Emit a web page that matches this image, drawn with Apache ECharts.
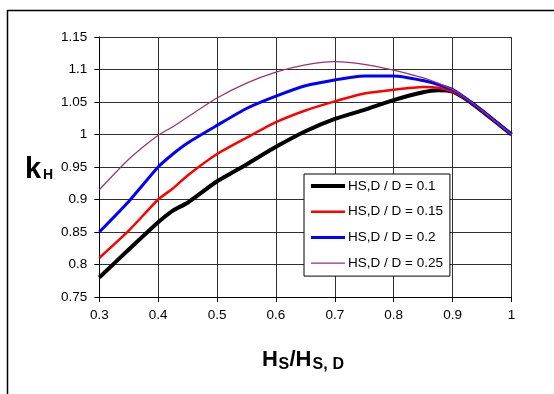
<!DOCTYPE html>
<html>
<head>
<meta charset="utf-8">
<script src="https://cdn.jsdelivr.net/npm/echarts@6/dist/echarts.min.js"></script>
<style>
  html, body { margin: 0; padding: 0; background: #fff; }
  #chart { width: 554px; height: 394px; }
</style>
</head>
<body>
<div id="chart"></div>
<script>
// Relative height H_S/H_S,D
const xs = [0.3, 0.35, 0.4, 0.425, 0.45, 0.5, 0.55, 0.6, 0.65, 0.7, 0.75, 0.8, 0.85, 0.875, 0.9, 0.925, 0.95, 1.0];

// k_H for each H_S,D / D ratio
const kH_010 = [0.780, 0.823, 0.865, 0.883, 0.895, 0.928, 0.954, 0.981, 1.005, 1.024, 1.038, 1.053, 1.065, 1.068, 1.066, 1.053, 1.036, 1.000];
const kH_015 = [0.810, 0.852, 0.900, 0.917, 0.937, 0.970, 0.995, 1.019, 1.037, 1.051, 1.063, 1.069, 1.073, 1.072, 1.066, 1.053, 1.036, 1.000];
const kH_020 = [0.850, 0.897, 0.950, 0.970, 0.987, 1.014, 1.040, 1.059, 1.075, 1.084, 1.090, 1.090, 1.083, 1.077, 1.069, 1.054, 1.037, 1.000];
const kH_025 = [0.915, 0.962, 0.999, 1.012, 1.027, 1.056, 1.079, 1.096, 1.107, 1.112, 1.108, 1.099, 1.087, 1.079, 1.069, 1.054, 1.037, 1.000];

const seriesNames = ['HS,D / D = 0.1', 'HS,D / D = 0.15', 'HS,D / D = 0.2', 'HS,D / D = 0.25'];
const seriesValues = [kH_010, kH_015, kH_020, kH_025];
const seriesColors = ['#000000', '#ff0000', '#0000ff', '#993366'];
const seriesWidths = [4, 2.5, 3, 1.2];

const FONT = "'Liberation Sans', Arial, sans-serif";

const chart = echarts.init(document.getElementById('chart'), null, { renderer: 'canvas' });

const fmt = v => String(+v.toFixed(2));

const option = {
  backgroundColor: '#ffffff',
  animation: false,
  textStyle: { fontFamily: FONT },
  grid: { left: 99.3, right: 42.5, top: 37, bottom: 97, containLabel: false },
  xAxis: {
    type: 'value',
    min: 0.3, max: 1, interval: 0.1,
    axisLine: { show: true, lineStyle: { color: '#000', width: 1 } },
    axisTick: { show: true, length: 5, lineStyle: { color: '#000' } },
    axisLabel: { formatter: fmt, color: '#000', fontSize: 13.5, fontFamily: FONT, margin: 11 },
    splitLine: { show: true, lineStyle: { color: '#303030', width: 1 } }
  },
  yAxis: {
    type: 'value',
    min: 0.75, max: 1.15, interval: 0.05,
    axisLine: { show: true, lineStyle: { color: '#000', width: 1 } },
    axisTick: { show: true, length: 5, lineStyle: { color: '#000' } },
    axisLabel: { formatter: fmt, color: '#000', fontSize: 13.5, fontFamily: FONT, margin: 12 },
    splitLine: { show: true, lineStyle: { color: '#303030', width: 1 } }
  },
  legend: {
    orient: 'vertical',
    left: 304, top: 174,
    padding: [5, 7, 6, 5],
    itemWidth: 34, itemHeight: 14, itemGap: 11.7,
    backgroundColor: '#fff',
    borderColor: '#000', borderWidth: 1,
    itemStyle: { opacity: 0, borderWidth: 0 },
    textStyle: { fontSize: 13.5, fontFamily: FONT, color: '#000', padding: [0, 0, 0, -2] },
    data: seriesNames.map((name, i) => ({
      name,
      lineStyle: { width: seriesWidths[i], color: seriesColors[i] }
    }))
  },
  series: seriesNames.map((name, i) => ({
    name,
    type: 'line',
    data: xs.map((x, j) => [x, seriesValues[i][j]]),
    symbol: 'none',
    showSymbol: false,
    smooth: 0.2,
    color: seriesColors[i],
    lineStyle: { color: seriesColors[i], width: seriesWidths[i] },
    z: 2 + i
  })),
  graphic: [
    // outer chart frame
    { type: 'rect', shape: { x: 7.5, y: 10.5, width: 600, height: 600 },
      style: { fill: 'none', stroke: '#000', lineWidth: 1.5 }, silent: true, z: 100 },
    // y-axis title k_H
    { type: 'text', left: 25, top: 155, style: { text: 'k', font: "bold 29px " + FONT, fill: '#000' } },
    { type: 'text', left: 43, top: 168, style: { text: 'H', font: "bold 14px " + FONT, fill: '#000' } },
    // x-axis title H_S / H_S,D
    { type: 'text', left: 262, top: 348.5, style: { text: 'H', font: "bold 22px " + FONT, fill: '#000' } },
    { type: 'text', left: 278.5, top: 356.5, style: { text: 'S', font: "bold 16px " + FONT, fill: '#000' } },
    { type: 'text', left: 289.5, top: 348.5, style: { text: '/H', font: "bold 22px " + FONT, fill: '#000' } },
    { type: 'text', left: 312.5, top: 356.5, style: { text: 'S,', font: "bold 16px " + FONT, fill: '#000' } },
    { type: 'text', left: 332.5, top: 356.5, style: { text: 'D', font: "bold 16px " + FONT, fill: '#000' } }
  ]
};

chart.setOption(option);
</script>
</body>
</html>
